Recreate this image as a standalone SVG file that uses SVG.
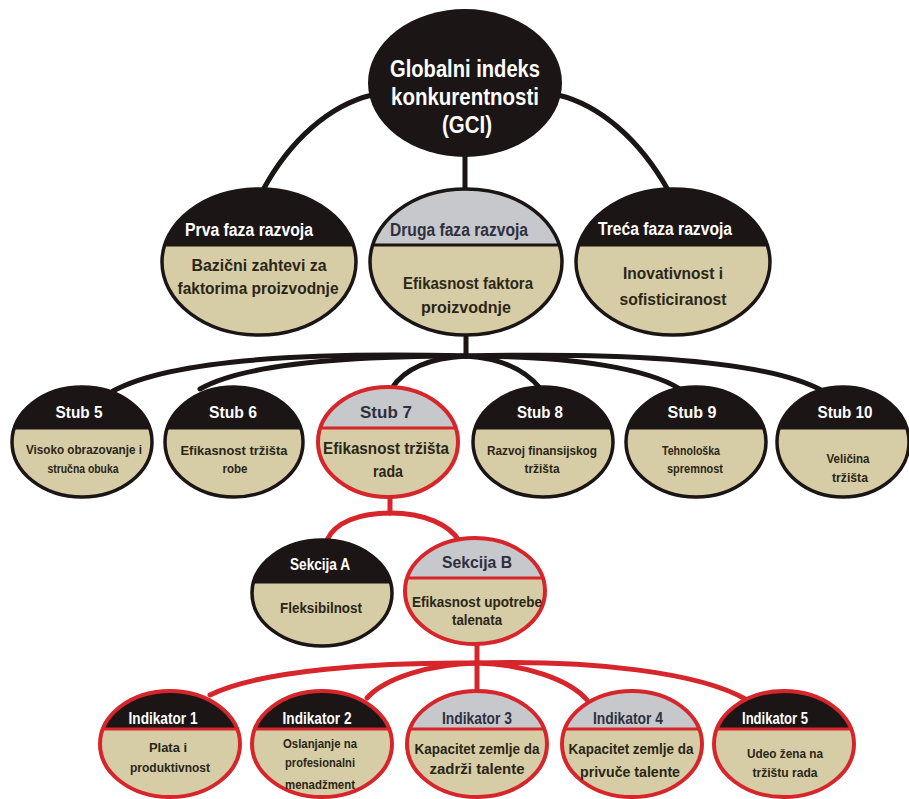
<svg xmlns="http://www.w3.org/2000/svg" width="909" height="799" viewBox="0 0 909 799">
<style>
.bk{fill:none;stroke:#1b1515;stroke-width:5;stroke-linecap:round}
.rd{fill:none;stroke:#d6262b;stroke-width:5;stroke-linecap:round}
.body{fill:#d6cda6}
.hb{fill:#1b1515}
.hg{fill:#c7c8cb}
.ob{fill:none;stroke:#1b1515;stroke-width:3.5}
.or{fill:none;stroke:#d6262b;stroke-width:4}
.db{stroke:#1b1515;stroke-width:3}
.dr{stroke:#d6262b;stroke-width:3}
text{font-family:"Liberation Sans",Arial,sans-serif;font-weight:bold;text-anchor:middle}
.tw{fill:#ffffff}
.td{fill:#2e3040}
.tb{fill:#2b2616}
</style>
<rect width="909" height="799" fill="#ffffff"/>
<g id="connectors">
<path class="bk" d="M372,95 C330,105 290,140 263,190"/>
<path class="bk" d="M558,95 C600,105 640,140 668,190"/>
<path class="bk" d="M465,155 L465,190"/>
<path class="bk" d="M466,335 L466,356"/>
<path class="bk" d="M466,356 C300,352 170,360 113,391"/>
<path class="bk" d="M466,356 C330,356 240,366 200,389"/>
<path class="bk" d="M466,356 C430,358 405,368 392,388"/>
<path class="bk" d="M466,356 C500,358 525,370 540,388"/>
<path class="bk" d="M466,356 C580,356 650,370 680,389"/>
<path class="bk" d="M466,356 C640,352 770,362 823,391"/>
<path class="rd" d="M390,497 L390,513"/>
<path class="rd" d="M390,513 C360,513 335,522 327,540"/>
<path class="rd" d="M390,513 C425,513 450,525 460,542"/>
<path class="rd" d="M477,645 L477,663"/>
<path class="rd" d="M477,663 C380,662 260,670 210,695"/>
<path class="rd" d="M477,663 C430,664 385,678 367,698"/>
<path class="rd" d="M477,663 L477,690"/>
<path class="rd" d="M477,663 C525,664 570,680 587,700"/>
<path class="rd" d="M477,663 C590,660 700,672 747,700"/>
</g>
<g id="gci">
<ellipse cx="465" cy="83" rx="97" ry="74" fill="#1b1515"/>
<text class="tw" x="465" y="77" font-size="23" textLength="150" lengthAdjust="spacingAndGlyphs">Globalni indeks</text>
<text class="tw" x="465" y="105" font-size="23" textLength="148" lengthAdjust="spacingAndGlyphs">konkurentnosti</text>
<text class="tw" x="467" y="133" font-size="23" textLength="50" lengthAdjust="spacingAndGlyphs">(GCI)</text>
</g>
<g id="faza1">
<ellipse class="body" cx="259" cy="262" rx="97" ry="73"/>
<path class="hb" d="M164.7,245 A97,73 0 0 1 353.3,245 Z"/>
<line class="db" x1="164" y1="245" x2="354" y2="245"/>
<ellipse class="ob" cx="259" cy="262" rx="97" ry="73"/>
<text class="tw" x="249" y="236" font-size="18" textLength="128" lengthAdjust="spacingAndGlyphs">Prva faza razvoja</text>
<text class="tb" x="259" y="271" font-size="17" textLength="135" lengthAdjust="spacingAndGlyphs">Bazični zahtevi za</text>
<text class="tb" x="258" y="294" font-size="17" textLength="161" lengthAdjust="spacingAndGlyphs">faktorima proizvodnje</text>
</g>
<g id="faza2">
<ellipse class="body" cx="466" cy="262" rx="96" ry="73"/>
<path class="hg" d="M372.7,245 A96,73 0 0 1 559.3,245 Z"/>
<line class="db" x1="372" y1="245" x2="560" y2="245"/>
<ellipse class="ob" cx="466" cy="262" rx="96" ry="73"/>
<text class="td" x="459" y="236" font-size="18" textLength="138" lengthAdjust="spacingAndGlyphs">Druga faza razvoja</text>
<text class="tb" x="468" y="289" font-size="17" textLength="130" lengthAdjust="spacingAndGlyphs">Efikasnost faktora</text>
<text class="tb" x="466" y="313" font-size="17" textLength="90" lengthAdjust="spacingAndGlyphs">proizvodnje</text>
</g>
<g id="faza3">
<ellipse class="body" cx="673" cy="262" rx="97" ry="73"/>
<path class="hb" d="M578.7,245 A97,73 0 0 1 767.3,245 Z"/>
<line class="db" x1="578" y1="245" x2="768" y2="245"/>
<ellipse class="ob" cx="673" cy="262" rx="97" ry="73"/>
<text class="tw" x="665" y="235" font-size="18" textLength="134" lengthAdjust="spacingAndGlyphs">Treća faza razvoja</text>
<text class="tb" x="673" y="279" font-size="17" textLength="100" lengthAdjust="spacingAndGlyphs">Inovativnost i</text>
<text class="tb" x="673" y="305" font-size="17" textLength="107" lengthAdjust="spacingAndGlyphs">sofisticiranost</text>
</g>
<g id="stub5">
<ellipse class="body" cx="82" cy="442" rx="70" ry="55"/>
<path class="hb" d="M14.3,428 A70,55 0 0 1 149.7,428 Z"/>
<line class="db" x1="14" y1="428" x2="150" y2="428"/>
<ellipse class="ob" cx="82" cy="442" rx="70" ry="55"/>
<text class="tw" x="79" y="418" font-size="17" textLength="47" lengthAdjust="spacingAndGlyphs">Stub 5</text>
<text class="tb" x="84" y="454" font-size="12.5" textLength="116" lengthAdjust="spacingAndGlyphs">Visoko obrazovanje i</text>
<text class="tb" x="83" y="473" font-size="12.5" textLength="71" lengthAdjust="spacingAndGlyphs">stručna obuka</text>
</g>
<g id="stub6">
<ellipse class="body" cx="234" cy="442" rx="69" ry="55"/>
<path class="hb" d="M167.3,428 A69,55 0 0 1 300.7,428 Z"/>
<line class="db" x1="167" y1="428" x2="301" y2="428"/>
<ellipse class="ob" cx="234" cy="442" rx="69" ry="55"/>
<text class="tw" x="233" y="418" font-size="17" textLength="48" lengthAdjust="spacingAndGlyphs">Stub 6</text>
<text class="tb" x="234" y="455" font-size="12.5" textLength="107" lengthAdjust="spacingAndGlyphs">Efikasnost tržišta</text>
<text class="tb" x="235" y="473" font-size="12.5" textLength="25" lengthAdjust="spacingAndGlyphs">robe</text>
</g>
<g id="stub7">
<ellipse class="body" cx="388" cy="442" rx="70" ry="55"/>
<path class="hg" d="M320.3,428 A70,55 0 0 1 455.7,428 Z"/>
<line class="dr" x1="320" y1="428" x2="456" y2="428"/>
<ellipse class="or" cx="388" cy="442" rx="70" ry="55"/>
<text class="td" x="386" y="418" font-size="17" textLength="52" lengthAdjust="spacingAndGlyphs">Stub 7</text>
<text class="tb" x="386" y="454" font-size="16" textLength="126" lengthAdjust="spacingAndGlyphs">Efikasnost tržišta</text>
<text class="tb" x="388" y="477" font-size="16" textLength="30" lengthAdjust="spacingAndGlyphs">rada</text>
</g>
<g id="stub8">
<ellipse class="body" cx="543" cy="442" rx="70" ry="55"/>
<path class="hb" d="M475.3,428 A70,55 0 0 1 610.7,428 Z"/>
<line class="db" x1="475" y1="428" x2="611" y2="428"/>
<ellipse class="ob" cx="543" cy="442" rx="70" ry="55"/>
<text class="tw" x="540" y="418" font-size="17" textLength="46" lengthAdjust="spacingAndGlyphs">Stub 8</text>
<text class="tb" x="542" y="455" font-size="12.5" textLength="110" lengthAdjust="spacingAndGlyphs">Razvoj finansijskog</text>
<text class="tb" x="542" y="473" font-size="12.5" textLength="35" lengthAdjust="spacingAndGlyphs">tržišta</text>
</g>
<g id="stub9">
<ellipse class="body" cx="696" cy="442" rx="70" ry="55"/>
<path class="hb" d="M628.3,428 A70,55 0 0 1 763.7,428 Z"/>
<line class="db" x1="628" y1="428" x2="764" y2="428"/>
<ellipse class="ob" cx="696" cy="442" rx="70" ry="55"/>
<text class="tw" x="692" y="418" font-size="17" textLength="49" lengthAdjust="spacingAndGlyphs">Stub 9</text>
<text class="tb" x="691" y="455" font-size="12.5" textLength="58" lengthAdjust="spacingAndGlyphs">Tehnološka</text>
<text class="tb" x="695" y="473" font-size="12.5" textLength="56" lengthAdjust="spacingAndGlyphs">spremnost</text>
</g>
<g id="stub10">
<ellipse class="body" cx="843" cy="442" rx="66" ry="55"/>
<path class="hb" d="M779.2,428 A66,55 0 0 1 906.8,428 Z"/>
<line class="db" x1="779" y1="428" x2="907" y2="428"/>
<ellipse class="ob" cx="843" cy="442" rx="66" ry="55"/>
<text class="tw" x="845" y="418" font-size="17" textLength="55" lengthAdjust="spacingAndGlyphs">Stub 10</text>
<text class="tb" x="848" y="463" font-size="12.5" textLength="43" lengthAdjust="spacingAndGlyphs">Veličina</text>
<text class="tb" x="850" y="482" font-size="12.5" textLength="36" lengthAdjust="spacingAndGlyphs">tržišta</text>
</g>
<g id="sekcijaA">
<ellipse class="body" cx="322" cy="593" rx="70" ry="53"/>
<path class="hb" d="M253.5,582 A70,53 0 0 1 390.5,582 Z"/>
<line class="db" x1="253" y1="582" x2="391" y2="582"/>
<ellipse class="ob" cx="322" cy="593" rx="70" ry="53"/>
<text class="tw" x="320" y="570" font-size="16" textLength="60" lengthAdjust="spacingAndGlyphs">Sekcija A</text>
<text class="tb" x="321" y="613" font-size="14" textLength="82" lengthAdjust="spacingAndGlyphs">Fleksibilnost</text>
</g>
<g id="sekcijaB">
<ellipse class="body" cx="475" cy="591" rx="70" ry="53"/>
<path class="hg" d="M407.1,578 A70,53 0 0 1 542.9,578 Z"/>
<line class="dr" x1="407" y1="578" x2="543" y2="578"/>
<ellipse class="or" cx="475" cy="591" rx="70" ry="53"/>
<text class="td" x="477" y="568" font-size="16" textLength="70" lengthAdjust="spacingAndGlyphs">Sekcija B</text>
<text class="tb" x="477" y="607" font-size="14" textLength="130" lengthAdjust="spacingAndGlyphs">Efikasnost upotrebe</text>
<text class="tb" x="477" y="625" font-size="14" textLength="50" lengthAdjust="spacingAndGlyphs">talenata</text>
</g>
<g id="indikator1">
<ellipse class="body" cx="170" cy="744" rx="70" ry="53"/>
<path class="hb" d="M102.9,729 A70,53 0 0 1 237.1,729 Z"/>
<line class="dr" x1="102" y1="729" x2="238" y2="729"/>
<ellipse class="or" cx="170" cy="744" rx="70" ry="53"/>
<text class="tw" x="163" y="724" font-size="17" textLength="69" lengthAdjust="spacingAndGlyphs">Indikator 1</text>
<text class="tb" x="168" y="752" font-size="12.5" textLength="38" lengthAdjust="spacingAndGlyphs">Plata i</text>
<text class="tb" x="170" y="772" font-size="12.5" textLength="80" lengthAdjust="spacingAndGlyphs">produktivnost</text>
</g>
<g id="indikator2">
<ellipse class="body" cx="322" cy="744" rx="70" ry="53"/>
<path class="hb" d="M254.9,729 A70,53 0 0 1 389.1,729 Z"/>
<line class="dr" x1="254" y1="729" x2="390" y2="729"/>
<ellipse class="or" cx="322" cy="744" rx="70" ry="53"/>
<text class="tw" x="317" y="724" font-size="17" textLength="69" lengthAdjust="spacingAndGlyphs">Indikator 2</text>
<text class="tb" x="320" y="748" font-size="12.5" textLength="74" lengthAdjust="spacingAndGlyphs">Oslanjanje na</text>
<text class="tb" x="320" y="767" font-size="12.5" textLength="70" lengthAdjust="spacingAndGlyphs">profesionalni</text>
<text class="tb" x="320" y="789" font-size="12.5" textLength="70" lengthAdjust="spacingAndGlyphs">menadžment</text>
</g>
<g id="indikator3">
<ellipse class="body" cx="477" cy="744" rx="70" ry="53"/>
<path class="hg" d="M409.9,729 A70,53 0 0 1 544.1,729 Z"/>
<line class="dr" x1="409" y1="729" x2="545" y2="729"/>
<ellipse class="or" cx="477" cy="744" rx="70" ry="53"/>
<text class="td" x="477" y="724" font-size="17" textLength="70" lengthAdjust="spacingAndGlyphs">Indikator 3</text>
<text class="tb" x="477" y="754" font-size="14.5" textLength="125" lengthAdjust="spacingAndGlyphs">Kapacitet zemlje da</text>
<text class="tb" x="477" y="774" font-size="14.5" textLength="95" lengthAdjust="spacingAndGlyphs">zadrži talente</text>
</g>
<g id="indikator4">
<ellipse class="body" cx="632" cy="744" rx="70" ry="53"/>
<path class="hg" d="M564.9,729 A70,53 0 0 1 699.1,729 Z"/>
<line class="dr" x1="564" y1="729" x2="700" y2="729"/>
<ellipse class="or" cx="632" cy="744" rx="70" ry="53"/>
<text class="td" x="628" y="724" font-size="17" textLength="70" lengthAdjust="spacingAndGlyphs">Indikator 4</text>
<text class="tb" x="631" y="754" font-size="14.5" textLength="125" lengthAdjust="spacingAndGlyphs">Kapacitet zemlje da</text>
<text class="tb" x="630" y="777" font-size="14.5" textLength="100" lengthAdjust="spacingAndGlyphs">privuče talente</text>
</g>
<g id="indikator5">
<ellipse class="body" cx="784" cy="744" rx="70" ry="53"/>
<path class="hb" d="M716.9,729 A70,53 0 0 1 851.1,729 Z"/>
<line class="dr" x1="716" y1="729" x2="852" y2="729"/>
<ellipse class="or" cx="784" cy="744" rx="70" ry="53"/>
<text class="tw" x="775" y="724" font-size="17" textLength="66" lengthAdjust="spacingAndGlyphs">Indikator 5</text>
<text class="tb" x="785" y="758" font-size="12.5" textLength="76" lengthAdjust="spacingAndGlyphs">Udeo žena na</text>
<text class="tb" x="785" y="777" font-size="12.5" textLength="65" lengthAdjust="spacingAndGlyphs">tržištu rada</text>
</g>
</svg>
